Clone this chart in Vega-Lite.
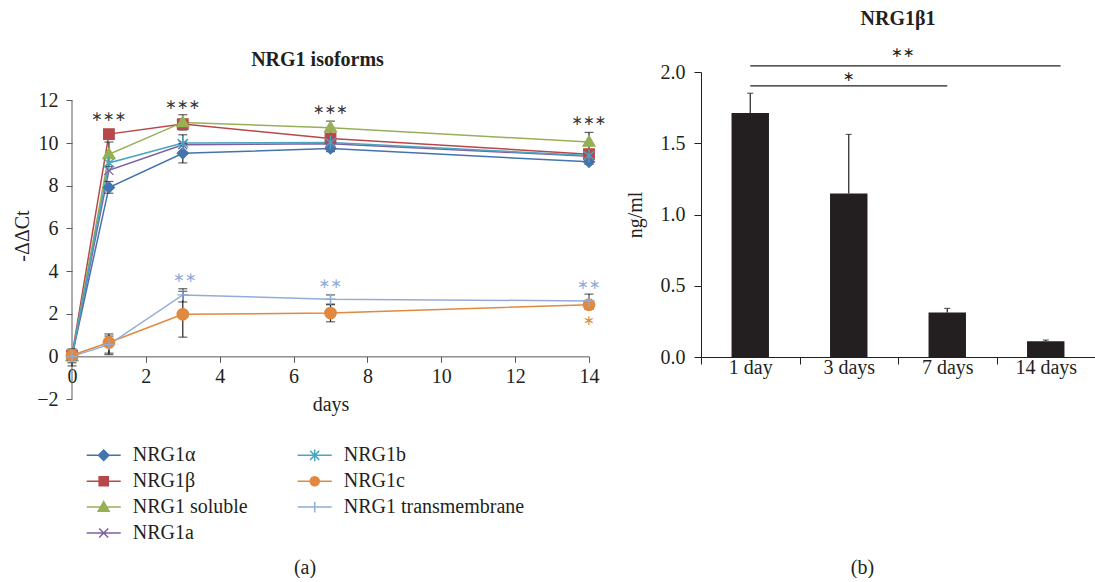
{
  "$schema": "https://vega.github.io/schema/vega-lite/v6.json",
  "background": "white",
  "padding": {"left": 12, "top": 8, "right": 0, "bottom": 0},
  "config": {
    "font": "Liberation Serif",
    "view": {"stroke": null},
    "axis": {"labelFont": "Liberation Serif", "titleFont": "Liberation Serif", "labelFontSize": 20, "titleFontSize": 20, "titleFontWeight": "normal", "labelColor": "#231f20", "titleColor": "#231f20", "grid": false},
    "title": {"font": "Liberation Serif", "fontSize": 20, "fontWeight": "bold", "color": "#231f20"}
  },
  "datasets": {
    "iso": [
      {"series": "NRG1α", "day": 0, "value": 0.0},
      {"series": "NRG1α", "day": 1, "value": 7.92},
      {"series": "NRG1α", "day": 3, "value": 9.52},
      {"series": "NRG1α", "day": 7, "value": 9.75},
      {"series": "NRG1α", "day": 14, "value": 9.12},
      {"series": "NRG1β", "day": 0, "value": 0.05},
      {"series": "NRG1β", "day": 1, "value": 10.42},
      {"series": "NRG1β", "day": 3, "value": 10.89},
      {"series": "NRG1β", "day": 7, "value": 10.22},
      {"series": "NRG1β", "day": 14, "value": 9.48},
      {"series": "NRG1 soluble", "day": 0, "value": 0.0},
      {"series": "NRG1 soluble", "day": 1, "value": 9.47},
      {"series": "NRG1 soluble", "day": 3, "value": 10.97},
      {"series": "NRG1 soluble", "day": 7, "value": 10.72},
      {"series": "NRG1 soluble", "day": 14, "value": 10.05},
      {"series": "NRG1a", "day": 0, "value": 0.0},
      {"series": "NRG1a", "day": 1, "value": 8.72},
      {"series": "NRG1a", "day": 3, "value": 9.92},
      {"series": "NRG1a", "day": 7, "value": 9.97},
      {"series": "NRG1a", "day": 14, "value": 9.38},
      {"series": "NRG1b", "day": 0, "value": 0.0},
      {"series": "NRG1b", "day": 1, "value": 9.07},
      {"series": "NRG1b", "day": 3, "value": 10.0},
      {"series": "NRG1b", "day": 7, "value": 10.03},
      {"series": "NRG1b", "day": 14, "value": 9.42},
      {"series": "NRG1c", "day": 0, "value": 0.05},
      {"series": "NRG1c", "day": 1, "value": 0.65},
      {"series": "NRG1c", "day": 3, "value": 1.97},
      {"series": "NRG1c", "day": 7, "value": 2.03},
      {"series": "NRG1c", "day": 14, "value": 2.42},
      {"series": "NRG1 transmembrane", "day": 0, "value": 0.0},
      {"series": "NRG1 transmembrane", "day": 1, "value": 0.55},
      {"series": "NRG1 transmembrane", "day": 3, "value": 2.88},
      {"series": "NRG1 transmembrane", "day": 7, "value": 2.68},
      {"series": "NRG1 transmembrane", "day": 14, "value": 2.6}
    ],
    "err": [
      {"day": 0, "lo": -0.45, "hi": 0.35},
      {"day": 0, "lo": -0.3, "hi": 0.25},
      {"day": 1, "lo": 8.9, "hi": 10.05},
      {"day": 1, "lo": 7.65, "hi": 8.2},
      {"day": 1, "lo": 0.08, "hi": 1.05},
      {"day": 1, "lo": 0.15, "hi": 0.95},
      {"day": 3, "lo": 10.61, "hi": 11.33},
      {"day": 3, "lo": 9.6, "hi": 10.39},
      {"day": 3, "lo": 9.07, "hi": 9.97},
      {"day": 3, "lo": 0.9, "hi": 3.05},
      {"day": 3, "lo": 2.55, "hi": 3.17},
      {"day": 7, "lo": 10.4, "hi": 11.03},
      {"day": 7, "lo": 9.6, "hi": 9.9},
      {"day": 7, "lo": 1.62, "hi": 2.42},
      {"day": 7, "lo": 2.45, "hi": 2.88},
      {"day": 14, "lo": 9.7, "hi": 10.5},
      {"day": 14, "lo": 9.0, "hi": 9.25},
      {"day": 14, "lo": 2.2, "hi": 2.62},
      {"day": 14, "lo": 2.3, "hi": 2.92}
    ],
    "sig": [
      {"day": 1, "y": 11.2, "label": "∗∗∗", "group": "all"},
      {"day": 3, "y": 11.8, "label": "∗∗∗", "group": "all"},
      {"day": 7, "y": 11.56, "label": "∗∗∗", "group": "all"},
      {"day": 14, "y": 11.02, "label": "∗∗∗", "group": "all"},
      {"day": 3.06, "y": 3.68, "label": "∗∗", "group": "tm"},
      {"day": 7, "y": 3.37, "label": "∗∗", "group": "tm"},
      {"day": 14, "y": 3.35, "label": "∗∗", "group": "tm"},
      {"day": 14, "y": 1.68, "label": "∗", "group": "c"}
    ],
    "elisa": [
      {"time": "1 day", "mean": 1.713, "upper": 1.851},
      {"time": "3 days", "mean": 1.148, "upper": 1.562},
      {"time": "7 days", "mean": 0.313, "upper": 0.341},
      {"time": "14 days", "mean": 0.11, "upper": 0.119}
    ]
  },
  "bounds": "flush",
  "spacing": 112,
  "hconcat": [
    {
      "width": 517,
      "height": 327,
      "title": {"text": "NRG1 isoforms", "offset": 2, "dx": -13},
      "resolve": {"scale": {"shape": "independent", "fill": "independent", "stroke": "independent", "color": "independent"}},
      "layer": [
        {
          "data": {"values": [{}]},
          "mark": {"type": "rule", "color": "#58595b", "strokeWidth": 1},
          "encoding": {
            "x": {"datum": 0, "type": "quantitative"},
            "y": {"datum": -2, "type": "quantitative"},
            "y2": {"datum": 12}
          }
        },
        {
          "data": {"name": "iso"},
          "mark": {"type": "line", "strokeWidth": 1.5},
          "encoding": {
            "x": {"field": "day", "type": "quantitative", "title": "days", "scale": {"domain": [0, 14], "nice": false},
              "axis": {"values": [0, 2, 4, 6, 8, 10, 12, 14], "offset": -42.65, "tickSize": 6, "labelPadding": 4, "title": "days", "titlePadding": 8, "domainColor": "#58595b", "tickColor": "#58595b", "labelFlush": false}},
            "y": {"field": "value", "type": "quantitative", "title": "-ΔΔCt", "scale": {"domain": [-2, 13.3333], "nice": false, "zero": false},
              "axis": {"values": [-2, 0, 2, 4, 6, 8, 10, 12], "domain": false, "tickSize": 6, "labelPadding": 8, "title": "-ΔΔCt", "titlePadding": 4, "tickColor": "#58595b"}},
            "stroke": {"field": "series", "type": "nominal", "legend": null,
              "scale": {"domain": ["NRG1α", "NRG1β", "NRG1 soluble", "NRG1a", "NRG1b", "NRG1c", "NRG1 transmembrane"],
                "range": ["#4474ad", "#b7484a", "#97b055", "#7d619f", "#4aa5c0", "#e0893f", "#92acd8"]}}
          }
        },
        {
          "data": {"name": "err"},
          "mark": {"type": "errorbar", "color": "#231f20", "thickness": 1.2, "ticks": {"size": 9, "thickness": 1.2, "color": "#231f20"}},
          "encoding": {
            "x": {"field": "day", "type": "quantitative", "title": "days"},
            "y": {"field": "lo", "type": "quantitative", "title": "-ΔΔCt"},
            "y2": {"field": "hi"}
          }
        },
        {
          "data": {"name": "iso"},
          "mark": {"type": "point", "filled": true, "size": 196, "strokeWidth": 1.3, "opacity": 1},
          "encoding": {
            "x": {"field": "day", "type": "quantitative", "title": "days"},
            "y": {"field": "value", "type": "quantitative", "title": "-ΔΔCt"},
            "shape": {"field": "series", "type": "nominal", "legend": null,
              "scale": {"domain": ["NRG1α", "NRG1β", "NRG1 soluble", "NRG1a", "NRG1b", "NRG1c", "NRG1 transmembrane"],
                "range": [
                  "M0,-0.79L0.79,0L0,0.79L-0.79,0Z",
                  "M-0.75,-0.75H0.75V0.75H-0.75Z",
                  "M0,-0.9L0.86,0.6H-0.86Z",
                  "M-0.64,-0.64L0.64,0.64M-0.64,0.64L0.64,-0.64",
                  "M-0.75,-0.6L0.75,0.6M-0.75,0.6L0.75,-0.6M0,-1V1",
                  "M-0.82,0A0.82,0.82,0,1,0,0.82,0A0.82,0.82,0,1,0,-0.82,0Z",
                  "M-0.79,0H0.79M0,-0.79V0.79"
                ]}},
            "fill": {"field": "series", "type": "nominal", "legend": null,
              "scale": {"domain": ["NRG1α", "NRG1β", "NRG1 soluble", "NRG1a", "NRG1b", "NRG1c", "NRG1 transmembrane"],
                "range": ["#4474ad", "#b7484a", "#97b055", "transparent", "transparent", "#e0893f", "transparent"]}},
            "stroke": {"field": "series", "type": "nominal", "legend": null,
              "scale": {"domain": ["NRG1α", "NRG1β", "NRG1 soluble", "NRG1a", "NRG1b", "NRG1c", "NRG1 transmembrane"],
                "range": ["#4474ad", "#b7484a", "#97b055", "#7d619f", "#4aa5c0", "#e0893f", "#92acd8"]}}
          }
        },
        {
          "data": {"name": "sig"},
          "mark": {"type": "text", "font": "DejaVu Sans", "fontSize": 14, "baseline": "middle", "align": "center"},
          "encoding": {
            "x": {"field": "day", "type": "quantitative", "title": "days"},
            "y": {"field": "y", "type": "quantitative", "title": "-ΔΔCt"},
            "text": {"field": "label"},
            "color": {"field": "group", "type": "nominal", "legend": null,
              "scale": {"domain": ["all", "tm", "c"], "range": ["#3a3a3c", "#92acd8", "#e0893f"]}}
          }
        },
        {
          "data": {"values": [{"t": "(a)"}]},
          "mark": {"type": "text", "font": "Liberation Serif", "fontSize": 20, "color": "#231f20", "baseline": "middle", "align": "center"},
          "encoding": {
            "x": {"datum": 6.31, "type": "quantitative"},
            "y": {"datum": -9.92, "type": "quantitative"},
            "text": {"field": "t"}
          }
        },
        {
          "data": {"name": "iso"},
          "transform": [{"filter": "datum.day < 0"}],
          "mark": {"type": "point", "filled": true, "strokeWidth": 1.5, "opacity": 1},
          "encoding": {
            "x": {"field": "day", "type": "quantitative", "title": "days"},
            "y": {"field": "value", "type": "quantitative", "title": "-ΔΔCt"},
            "shape": {"field": "series", "type": "nominal",
              "legend": {"orient": "none", "legendX": 17.7, "legendY": 369.3, "columns": 2, "title": null, "symbolSize": 676, "symbolStrokeWidth": 1.5, "labelFontSize": 20, "labelFont": "Liberation Serif", "labelColor": "#231f20", "labelOffset": 15, "rowPadding": 1.9, "columnPadding": 46, "padding": 0, "labelLimit": 400},
              "scale": {"domain": ["NRG1α", "NRG1β", "NRG1 soluble", "NRG1a", "NRG1b", "NRG1c", "NRG1 transmembrane"],
                "range": [
                  "M-1.31,0H1.31M-0.4,0L0,-0.4L0.4,0L0,0.4Z",
                  "M-1.31,0H1.31M-0.35,-0.35H0.35V0.35H-0.35Z",
                  "M-1.31,0H1.31M0,-0.42L0.42,0.32H-0.42Z",
                  "M-1.31,0H1.31M-0.35,-0.35L0.35,0.35M-0.35,0.35L0.35,-0.35",
                  "M-1.31,0H1.31M-0.35,-0.35L0.35,0.35M-0.35,0.35L0.35,-0.35M0,-0.45V0.45",
                  "M-1.31,0H1.31M-0.35,0A0.35,0.35,0,1,0,0.35,0A0.35,0.35,0,1,0,-0.35,0Z",
                  "M-1.31,0H1.31M0,-0.42V0.42"
                ]}},
            "fill": {"field": "series", "type": "nominal",
              "legend": {"orient": "none", "legendX": 17.7, "legendY": 369.3, "columns": 2, "title": null, "symbolSize": 676, "symbolStrokeWidth": 1.5, "labelFontSize": 20, "labelFont": "Liberation Serif", "labelColor": "#231f20", "labelOffset": 15, "rowPadding": 1.9, "columnPadding": 46, "padding": 0, "labelLimit": 400},
              "scale": {"domain": ["NRG1α", "NRG1β", "NRG1 soluble", "NRG1a", "NRG1b", "NRG1c", "NRG1 transmembrane"],
                "range": ["#4474ad", "#b7484a", "#97b055", "transparent", "transparent", "#e0893f", "transparent"]}},
            "stroke": {"field": "series", "type": "nominal",
              "legend": {"orient": "none", "legendX": 17.7, "legendY": 369.3, "columns": 2, "title": null, "symbolSize": 676, "symbolStrokeWidth": 1.5, "labelFontSize": 20, "labelFont": "Liberation Serif", "labelColor": "#231f20", "labelOffset": 15, "rowPadding": 1.9, "columnPadding": 46, "padding": 0, "labelLimit": 400},
              "scale": {"domain": ["NRG1α", "NRG1β", "NRG1 soluble", "NRG1a", "NRG1b", "NRG1c", "NRG1 transmembrane"],
                "range": ["#4474ad", "#b7484a", "#97b055", "#7d619f", "#4aa5c0", "#e0893f", "#92acd8"]}}
          }
        }
      ]
    },
    {
      "width": 394,
      "height": 285,
      "title": {"text": "NRG1β1", "offset": 17, "frame": "group"},
      "layer": [
        {
          "data": {"name": "elisa"},
          "mark": {"type": "rule", "color": "#231f20", "strokeWidth": 1.2},
          "encoding": {
            "x": {"field": "time", "type": "nominal", "sort": null},
            "y": {"field": "mean", "type": "quantitative"},
            "y2": {"field": "upper"}
          }
        },
        {
          "data": {"name": "elisa"},
          "mark": {"type": "tick", "color": "#231f20", "size": 6, "thickness": 1.2},
          "encoding": {
            "x": {"field": "time", "type": "nominal", "sort": null},
            "y": {"field": "upper", "type": "quantitative"}
          }
        },
        {
          "data": {"name": "elisa"},
          "mark": {"type": "bar", "color": "#231f20", "width": {"band": 0.38}},
          "encoding": {
            "x": {"field": "time", "type": "nominal", "sort": null,
              "scale": {"paddingInner": 0, "paddingOuter": 0},
              "axis": {"title": "(b)", "titlePadding": 180, "titleX": 161, "labelAngle": 0, "labelAlign": "center", "tickBand": "extent", "tickSize": 7, "labelPadding": 3, "domainColor": "#231f20", "tickColor": "#231f20"}},
            "y": {"field": "mean", "type": "quantitative", "scale": {"domain": [0, 2], "nice": false},
              "axis": {"title": "ng/ml", "values": [0, 0.5, 1, 1.5, 2], "format": ".1f", "tickSize": 7, "labelPadding": 9, "titlePadding": 15, "domainColor": "#231f20", "tickColor": "#231f20"}}
          }
        },
        {
          "data": {"values": [{"from": "1 day", "to": "7 days", "y": 1.903}]},
          "mark": {"type": "rule", "color": "#231f20", "strokeWidth": 1.2},
          "encoding": {
            "x": {"field": "from", "type": "nominal", "sort": null},
            "x2": {"field": "to"},
            "y": {"field": "y", "type": "quantitative"}
          }
        },
        {
          "data": {"values": [{"from": "1 day", "to": "14 days", "y": 2.043}]},
          "mark": {"type": "rule", "color": "#231f20", "strokeWidth": 1.2},
          "encoding": {
            "x": {"field": "from", "type": "nominal", "sort": null},
            "x2": {"field": "to", "bandPosition": 0.65},
            "y": {"field": "y", "type": "quantitative"}
          }
        },
        {
          "data": {"values": [{"at": "3 days", "y": 1.965, "label": "∗"}]},
          "mark": {"type": "text", "font": "DejaVu Sans", "fontSize": 14, "color": "#231f20", "baseline": "middle"},
          "encoding": {
            "x": {"field": "at", "type": "nominal", "sort": null},
            "y": {"field": "y", "type": "quantitative"},
            "text": {"field": "label"}
          }
        },
        {
          "data": {"values": [{"at": "7 days", "y": 2.134, "label": "∗∗"}]},
          "mark": {"type": "text", "font": "DejaVu Sans", "fontSize": 14, "color": "#231f20", "baseline": "middle"},
          "encoding": {
            "x": {"field": "at", "type": "nominal", "sort": null, "bandPosition": 0.05},
            "y": {"field": "y", "type": "quantitative"},
            "text": {"field": "label"}
          }
        }
      ]
    }
  ]
}
